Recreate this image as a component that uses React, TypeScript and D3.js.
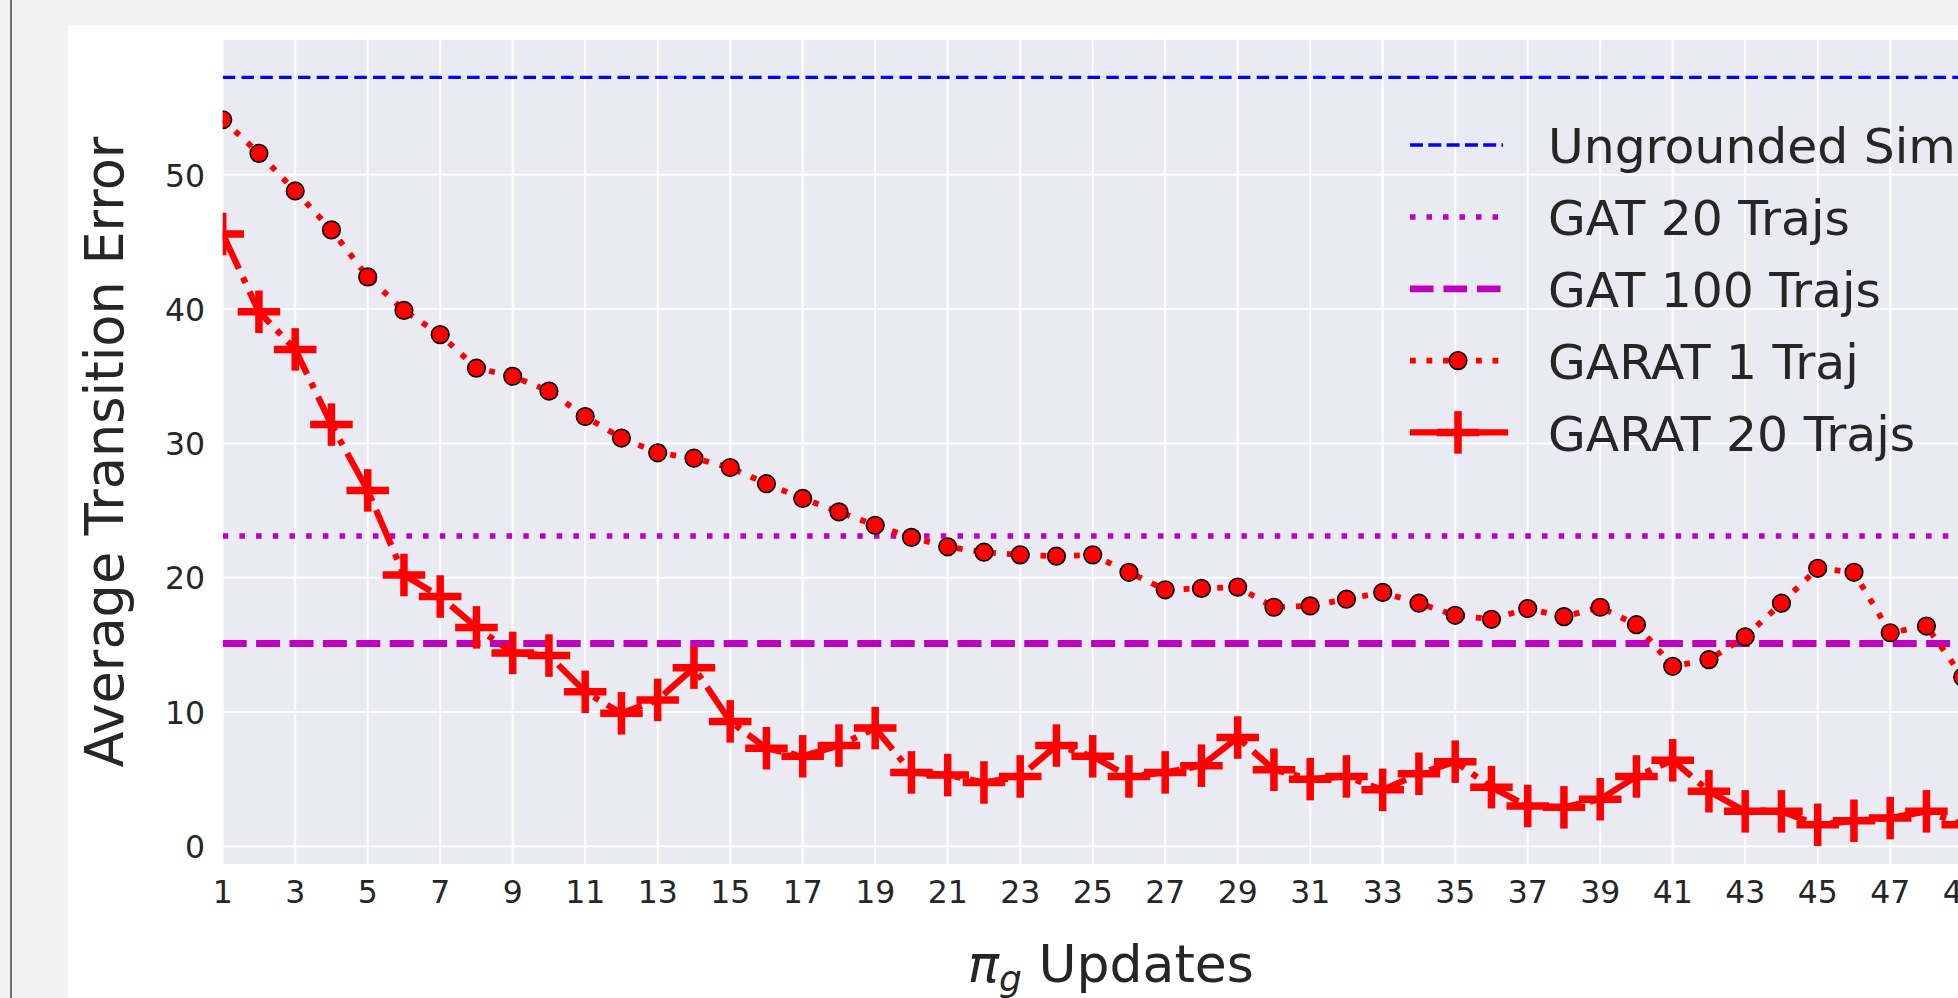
import React from "react";
import * as d3 from "d3";

const updates = [1,2,3,4,5,6,7,8,9,10,11,12,13,14,15,16,17,18,19,20,21,22,23,24,25,26,27,28,29,30,31,32,33,34,35,36,37,38,39,40,41,42,43,44,45,46,47,48,49];
const garat1 = [54.1,51.6,48.8,45.9,42.4,39.9,38.1,35.6,35.0,33.9,32.0,30.4,29.3,28.9,28.2,27.0,25.9,24.9,23.9,23.0,22.3,21.9,21.7,21.6,21.7,20.4,19.1,19.2,19.3,17.8,17.9,18.4,18.9,18.1,17.2,16.9,17.7,17.1,17.8,16.5,13.4,13.9,15.6,18.1,20.7,20.4,15.9,16.4,12.6];
const garat20 = [45.6,39.8,37.0,31.4,26.5,20.2,18.6,16.3,14.4,14.2,11.5,9.9,10.9,13.3,9.3,7.3,6.7,7.5,8.8,5.5,5.3,4.75,5.2,7.5,6.7,5.2,5.5,6.0,8.1,5.7,5.0,5.2,4.2,5.4,6.3,4.4,3.0,2.9,3.5,5.2,6.4,4.1,2.6,2.6,1.6,1.9,2.1,2.6,1.6];
const ungroundedSim = 57.26;
const gat20 = 23.1;
const gat100 = 15.1;
const xTicks = [1,3,5,7,9,11,13,15,17,19,21,23,25,27,29,31,33,35,37,39,41,43,45,47,49];
const yTicks = [0,10,20,30,40,50];
const legendLabels = ["Ungrounded Sim", "GAT 20 Trajs", "GAT 100 Trajs", "GARAT 1 Traj", "GARAT 20 Trajs"];

const W = 1958, H = 998;
const PL = 222.7, PR = 1998.95, PT = 40, PB = 864;
const FONT = "DejaVu Sans, sans-serif";
const TXT = "#262626";

export default function App() {
  const x = d3.scaleLinear().domain([1, 50]).range([PL, PR]);
  const y = d3.scaleLinear().domain([-1.32, 60.04]).range([PB, PT]);
  const line = d3.line<number>().x((_, i) => x(updates[i])).y((d) => y(d));

  const cross = (cx: number, cy: number, s: number, key: string) => (
    <g key={key}>
      <line x1={cx - s / 2} x2={cx + s / 2} y1={cy} y2={cy} stroke="#ff0000" strokeWidth={7.5} />
      <line x1={cx} x2={cx} y1={cy - s / 2} y2={cy + s / 2} stroke="#ff0000" strokeWidth={7.5} />
    </g>
  );

  const legX1 = 1410, legX2 = 1503, legMid = 1458, legText = 1548;
  const rowY = [145, 216.9, 288.8, 360.6, 432.4];

  return (
    <svg width={W} height={H} style={{ position: "fixed", left: 0, top: 0 }} xmlns="http://www.w3.org/2000/svg">
      <rect x={0} y={0} width={W} height={H} fill="#f2f2f2" />
      <rect x={10} y={0} width={2} height={H} fill="#6e6e6e" />
      <rect x={68} y={25} width={W - 68} height={H - 25} fill="#ffffff" />
      <defs>
        <clipPath id="plotclip">
          <rect x={PL} y={PT} width={PR - PL} height={PB - PT} />
        </clipPath>
      </defs>
      <rect x={PL} y={PT} width={PR - PL} height={PB - PT} fill="#eaeaf2" />
      {/* grid */}
      {xTicks.map((t) => (
        <line key={"gx" + t} x1={x(t)} x2={x(t)} y1={PT} y2={PB} stroke="#ffffff" strokeWidth={2} />
      ))}
      {yTicks.map((t) => (
        <line key={"gy" + t} x1={PL} x2={PR} y1={y(t)} y2={y(t)} stroke="#ffffff" strokeWidth={2} />
      ))}
      <g clipPath="url(#plotclip)">
        <line x1={PL} x2={PR} y1={y(ungroundedSim)} y2={y(ungroundedSim)} stroke="#0000ff" strokeWidth={3.3} strokeDasharray="12.5 6.3" />
        <line x1={PL} x2={PR} y1={y(gat20)} y2={y(gat20)} stroke="#bf00bf" strokeWidth={5.5} strokeDasharray="5.5 11.2" />
        <line x1={PL} x2={PR} y1={y(gat100)} y2={y(gat100)} stroke="#bf00bf" strokeWidth={6.8} strokeDasharray="24 9.4" />
        <path d={line(garat1) || ""} fill="none" stroke="#ff0000" strokeWidth={5.8} strokeDasharray="5.8 11" />
        {garat1.map((v, i) => (
          <circle key={"c" + i} cx={x(updates[i])} cy={y(v)} r={8.8} fill="#ff0000" stroke="#000000" strokeWidth={1.6} />
        ))}
        <path d={line(garat20) || ""} fill="none" stroke="#ff0000" strokeWidth={6.3} strokeDasharray="38.4 9.6 6 9.6" />
        {garat20.map((v, i) => cross(x(updates[i]), y(v), 42.5, "p" + i))}
      </g>
      {/* ticks */}
      {xTicks.map((t) => (
        <text key={"tx" + t} x={x(t)} y={903.3} textAnchor="middle" fontFamily={FONT} fontSize={31.5} fill={TXT}>{t}</text>
      ))}
      {yTicks.map((t) => (
        <text key={"ty" + t} x={205} y={y(t) + 11.8} textAnchor="end" fontFamily={FONT} fontSize={31.5} fill={TXT}>{t}</text>
      ))}
      {/* axis labels */}
      <text transform={`translate(123,${(PT + PB) / 2}) rotate(-90)`} textAnchor="middle" fontFamily={FONT} fontSize={52.5} fill={TXT}>Average Transition Error</text>
      <text x={(PL + PR) / 2} y={982} textAnchor="middle" fontFamily={FONT} fontSize={52} fill={TXT}>
        <tspan fontStyle="italic">π</tspan>
        <tspan fontStyle="italic" fontSize={36} dy={9}>g</tspan>
        <tspan dy={-9}> Updates</tspan>
      </text>
      {/* legend */}
      <line x1={legX1} x2={legX2} y1={rowY[0]} y2={rowY[0]} stroke="#0000ff" strokeWidth={3.3} strokeDasharray="13 5.3" />
      <line x1={legX1} x2={legX2} y1={rowY[1]} y2={rowY[1]} stroke="#bf00bf" strokeWidth={5.5} strokeDasharray="5.5 11" />
      <line x1={legX1} x2={legX2} y1={rowY[2]} y2={rowY[2]} stroke="#bf00bf" strokeWidth={6.8} strokeDasharray="23.5 10" />
      <line x1={legX1} x2={legX2} y1={rowY[3]} y2={rowY[3]} stroke="#ff0000" strokeWidth={5.8} strokeDasharray="5.8 10.7" />
      <circle cx={legMid} cy={rowY[3]} r={8.8} fill="#ff0000" stroke="#000000" strokeWidth={1.6} />
      <line x1={legX1 + 3} x2={legX2 + 2} y1={rowY[4]} y2={rowY[4]} stroke="#ff0000" strokeWidth={6.3} strokeLinecap="square" />
      {cross(legMid, rowY[4], 42.5, "legcross")}
      {legendLabels.map((l, i) => (
        <text key={"l" + i} x={legText} y={rowY[i] + 18.4} fontFamily={FONT} fontSize={48.8} fill={TXT}>{l}</text>
      ))}
    </svg>
  );
}
